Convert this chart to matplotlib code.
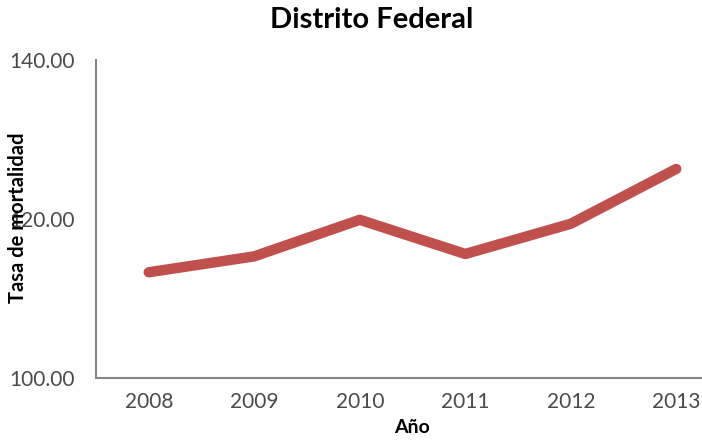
import matplotlib
matplotlib.use("Agg")
import matplotlib.pyplot as plt

years = ["2008", "2009", "2010", "2011", "2012", "2013"]
rates = [113.3, 115.3, 119.9, 115.6, 119.4, 126.3]
yticks = [100, 120, 140]
title = "Distrito Federal"
xlabel = "Año"
ylabel = "Tasa de mortalidad"

plt.rcParams['font.family'] = ['Lato', 'DejaVu Sans']

fig = plt.figure(figsize=(7.02, 4.40), dpi=100)
ax = fig.add_axes([96/702, 1 - 378/440, 633/702, 318/440])

x = list(range(len(years)))
ax.plot(x, rates, color="#C0504D", linewidth=7.5, solid_capstyle="round",
        solid_joinstyle="round")

ax.set_xlim(-0.5, len(years) - 0.5)
ax.set_ylim(100, 140)
ax.set_yticks(yticks)
ax.set_yticklabels([f"{v:.2f}" for v in yticks], fontsize=15, color="#4a4a4a")
ax.set_xticks(x)
ax.set_xticklabels(years, fontsize=15, color="#4a4a4a")
ax.tick_params(axis="both", length=0)
ax.tick_params(axis="x", pad=10)
ax.tick_params(axis="y", pad=15)

for s in ["top", "right"]:
    ax.spines[s].set_visible(False)
for s in ["left", "bottom"]:
    ax.spines[s].set_color("#868686")
    ax.spines[s].set_linewidth(1.5)

fig.text(372/702, 1 - 20/440, title, ha="center", va="center",
         fontsize=21, fontweight="bold", color="black")
fig.text(412/702, 1 - 427/440, xlabel, ha="center", va="center",
         fontsize=14, fontweight="bold", color="black")
fig.text(18/702, 1 - 218/440, ylabel, ha="center", va="center",
         rotation=90, fontsize=14.5, fontweight="bold", color="black")

fig.savefig("out.png", dpi=100)
